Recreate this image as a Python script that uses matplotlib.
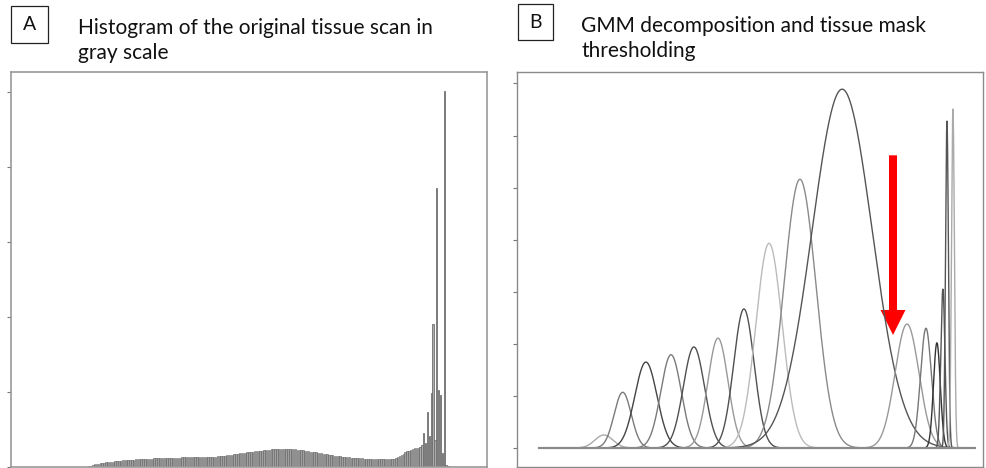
import numpy as np
import matplotlib
matplotlib.use("Agg")
import matplotlib.pyplot as plt
from matplotlib.patches import Rectangle

# ---- panel A: gray-level histogram (heights) ----
bulk_start = 38
bulk_heights = [
    0.0, 0.0, 0.0, 0.05, 0.1, 0.2, 0.3, 0.35,
    0.4, 0.45, 0.5, 0.55, 0.58, 0.61, 0.64, 0.67,
    0.7, 0.73, 0.76, 0.79, 0.82, 0.85, 0.87, 0.9,
    0.93, 0.95, 0.97, 0.99, 1.0, 1.02, 1.04, 1.05,
    1.07, 1.08, 1.09, 1.1, 1.11, 1.12, 1.13, 1.14, 1.15, 1.16,
    1.17, 1.18, 1.19, 1.2, 1.2, 1.21, 1.22, 1.23, 1.24, 1.25,
    1.25, 1.26, 1.27, 1.27, 1.28, 1.29, 1.3, 1.3, 1.31, 1.32,
    1.32, 1.33, 1.33, 1.34, 1.34, 1.35, 1.36, 1.37, 1.38, 1.39,
    1.4, 1.42, 1.44, 1.46, 1.48, 1.5, 1.54, 1.58, 1.62, 1.66,
    1.7, 1.74, 1.78, 1.82, 1.85, 1.88, 1.92, 1.95, 1.98, 2.0,
    2.03, 2.07, 2.11, 2.15, 2.18, 2.2, 2.23, 2.26, 2.3, 2.32,
    2.34, 2.36, 2.38, 2.39, 2.4, 2.4, 2.41, 2.41, 2.4, 2.4,
    2.39, 2.38, 2.36, 2.34, 2.31, 2.28, 2.25, 2.22, 2.18, 2.14,
    2.1, 2.06, 2.02, 1.98, 1.94, 1.9, 1.86, 1.82, 1.78, 1.74,
    1.7, 1.65, 1.6, 1.56, 1.52, 1.48, 1.45, 1.42, 1.39, 1.36,
    1.33, 1.3, 1.27, 1.25, 1.23, 1.21, 1.19, 1.18, 1.16, 1.15,
    1.13, 1.12, 1.11, 1.1, 1.09, 1.08, 1.07, 1.07, 1.06, 1.06,
    1.06, 1.06, 1.07, 1.07, 1.08, 1.07, 1.1, 1.2, 1.35, 1.5,
    1.65, 1.8, 1.95, 2.1, 2.2, 2.3, 2.4, 2.5, 2.6, 2.5,
]
tail_start = 220
tail_heights = [2.7, 2.9, 4.5, 3.2, 7.3, 4.1, 9.9, 19.1,
                3.6, 37.2, 10.3, 9.6, 1.9, 50.1, 0.3, 0.1]

# ---- panel B: GMM components (mean, peak height, sigma, line gray) ----
gmm_means = [38, 49, 62.6, 77.3, 90.7, 104.8, 120, 134.7, 152.8, 177.5,
             215.5, 226.6, 233, 236.5, 238.9, 242.4]
gmm_heights = [0.25, 1.07, 1.65, 1.79, 1.94, 2.11, 2.67, 3.93, 5.16, 6.89,
               2.38, 2.30, 2.02, 3.05, 6.28, 6.51]
gmm_sigmas = [5.3, 5.0, 6.5, 6.0, 6.2, 5.9, 6.0, 7.7, 9.4, 17.6,
              7.0, 3.2, 2.0, 1.2, 0.85, 0.85]
gmm_grays = ["#aaaaaa", "#7a7a7a", "#444444", "#7a7a7a", "#505050", "#999999",
             "#505050", "#bbbbbb", "#8a8a8a", "#555555", "#999999", "#777777",
             "#333333", "#555555", "#555555", "#aaaaaa"]
threshold_x = 207.3
arrow_top, arrow_tip = 5.62, 2.17

fig = plt.figure(figsize=(9.86, 4.68), dpi=100)
plt.rcParams["font.family"] = ["Lato", "DejaVu Sans"]

# panel A
axA = fig.add_axes([11 / 986, 1 / 468, 476 / 986, 395 / 468])
bins = np.arange(bulk_start, bulk_start + len(bulk_heights))
axA.bar(bins, bulk_heights, width=0.75, color="#a0a0a0",
        edgecolor="#5e5e5e", linewidth=0.4)
tbins = np.arange(tail_start, tail_start + len(tail_heights))
axA.bar(tbins, tail_heights, width=0.75, color="#acacac",
        edgecolor="#6e6e6e", linewidth=0.6)
axA.set_xlim(0, 256)
axA.set_ylim(0, 52.67)
axA.set_yticks(np.arange(0, 51, 10))
axA.set_xticks([])
axA.tick_params(axis="y", length=3, color="#777777", labelleft=False)
for s in axA.spines.values():
    s.set_color("#9a9a9a")
    s.set_linewidth(1.2)

# panel B
axB = fig.add_axes([517 / 986, 1 / 468, 466 / 986, 395 / 468])
xs = np.linspace(0, 255, 4000)
for m, h, sd, g in zip(gmm_means, gmm_heights, gmm_sigmas, gmm_grays):
    axB.plot(xs, h * np.exp(-0.5 * ((xs - m) / sd) ** 2), color=g, lw=1.0)
axB.plot([0, 255], [0, 0], color="#8a8a8a", lw=1.6)
axB.arrow(threshold_x, arrow_top, 0, -(arrow_top - arrow_tip - 0.48),
          width=4.7, head_width=14.6, head_length=0.48,
          length_includes_head=False, color="#ff0000", lw=0)
axB.set_xlim(-12.9, 260)
axB.set_ylim(-0.365, 7.22)
axB.set_xticks(np.arange(0, 251, 50))
axB.set_yticks(np.arange(0, 8, 1))
axB.tick_params(length=3, color="#777777", labelleft=False, labelbottom=False)
for s in axB.spines.values():
    s.set_color("#8a8a8a")
    s.set_linewidth(1.0)

# panel labels and titles
for (x0, y0, w, h, letter) in [(11, 6, 37, 37, "A"), (518, 4, 35, 36, "B")]:
    fig.add_artist(Rectangle((x0 / 986, 1 - (y0 + h) / 468), w / 986, h / 468,
                             transform=fig.transFigure, fill=False,
                             edgecolor="#222222", lw=0.9))
    fig.text((x0 + w / 2) / 986, 1 - (y0 + h / 2) / 468, letter,
             ha="center", va="center", fontsize=14, color="#111111")

fig.text(78 / 986, 1 - 34 / 468, "Histogram of the original tissue scan in",
         fontsize=15, va="baseline", color="#111111")
fig.text(78 / 986, 1 - 59 / 468, "gray scale",
         fontsize=15, va="baseline", color="#111111")
fig.text(581 / 986, 1 - 32 / 468, "GMM decomposition and tissue mask",
         fontsize=15, va="baseline", color="#111111")
fig.text(581 / 986, 1 - 57 / 468, "thresholding",
         fontsize=15, va="baseline", color="#111111")

fig.savefig("out.png", dpi=100)
